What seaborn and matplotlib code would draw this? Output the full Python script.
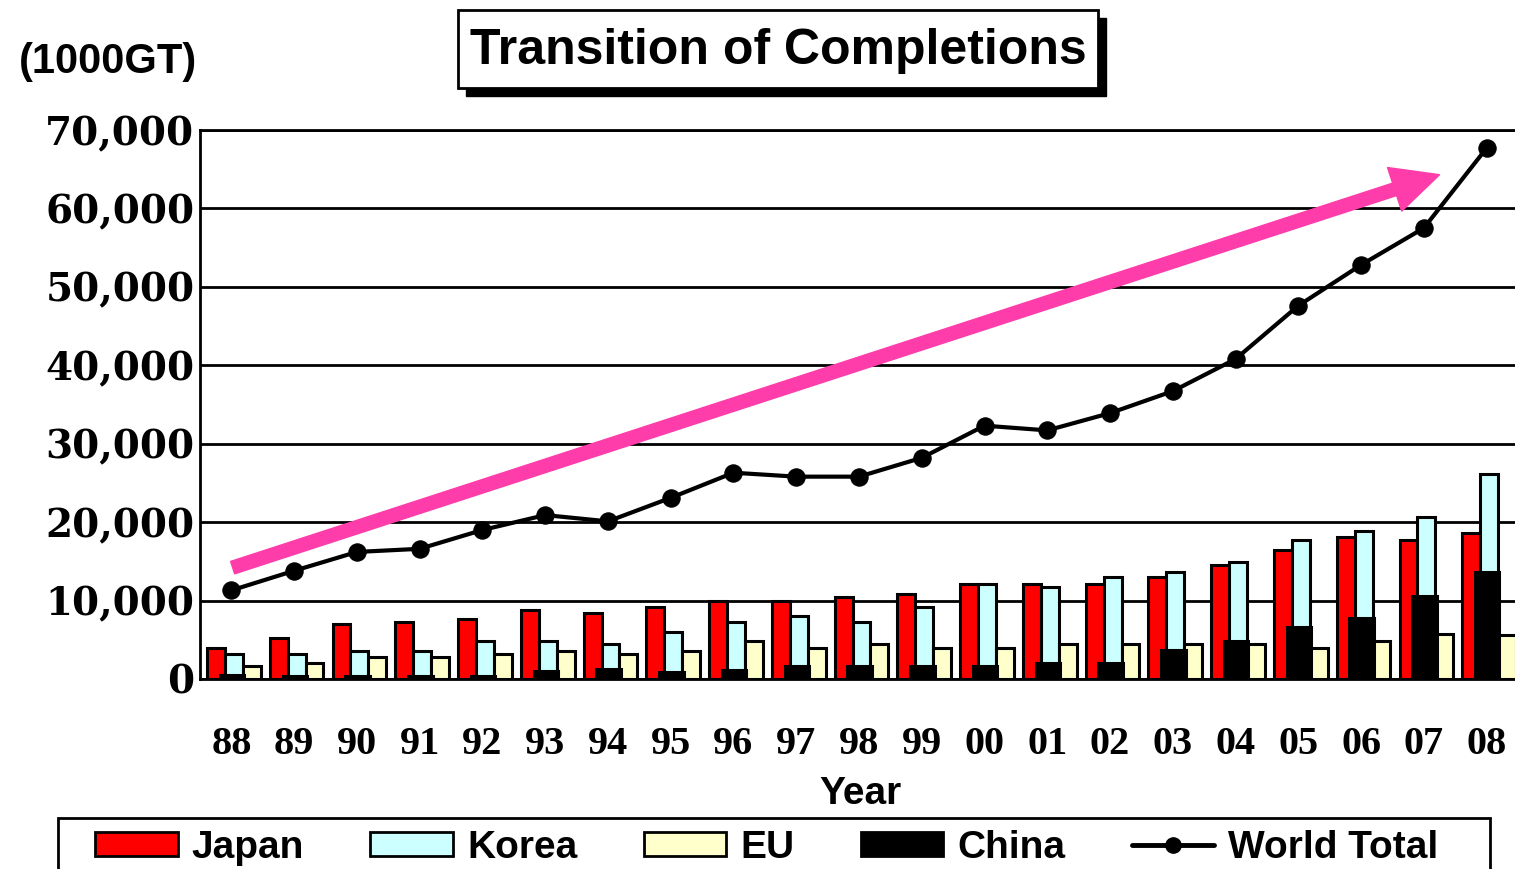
import numpy as np
import pandas as pd
import seaborn as sns
import matplotlib.pyplot as plt
from matplotlib.patches import Rectangle, Patch
from matplotlib.lines import Line2D

# values in 1000GT
years = ["88", "89", "90", "91", "92", "93", "94", "95", "96", "97", "98",
         "99", "00", "01", "02", "03", "04", "05", "06", "07", "08"]
japan = [4000, 5200, 7000, 7300, 7700, 8800, 8400, 9200, 10000, 10000, 10500,
         10900, 12100, 12100, 12100, 13000, 14500, 16500, 18100, 17700, 18600]
korea = [3200, 3200, 3600, 3600, 4900, 4900, 4500, 6000, 7300, 8000, 7300,
         9200, 12100, 11700, 13000, 13700, 14900, 17700, 18900, 20600, 26200]
eu = [1600, 2100, 2800, 2800, 3200, 3600, 3200, 3600, 4900, 4000, 4500,
      4000, 4000, 4500, 4500, 4500, 4500, 4000, 4900, 5700, 5600]
china = [500, 400, 400, 400, 400, 1000, 1300, 900, 1200, 1600, 1600,
         1600, 1600, 2100, 2100, 3700, 4900, 6600, 7800, 10600, 13700]
world = [11300, 13800, 16200, 16600, 19000, 20900, 20100, 23100, 26300, 25800, 25800,
         28200, 32300, 31700, 33900, 36700, 40800, 47600, 52800, 57500, 67700]

series_names = ["Japan", "Korea", "EU", "China"]
colors = {"Japan": "#FF0000", "Korea": "#CCFFFF", "EU": "#FFFFCC", "China": "#000000"}

sns.set_theme(style="white")
plt.rcParams["text.color"] = "black"
serif = dict(family=["Liberation Serif", "DejaVu Serif"], weight="bold")
yserif = dict(family=["DejaVu Serif"], weight="bold")
sans = dict(family=["Liberation Sans", "DejaVu Sans"], weight="bold")

W, H = 1515, 869
fig = plt.figure(figsize=(W / 100, H / 100), dpi=100)
ax = fig.add_axes([200 / W, 1 - 679 / H, 1318 / W, 549 / H])

idx = np.arange(len(years))
df = pd.DataFrame({"idx": idx, "Japan": japan, "Korea": korea, "EU": eu,
                   "China": china, "World": world})

# bar position shift and width inside each year slot
layout = {"Japan": (-0.245, 0.285), "Korea": (0.04, 0.285),
          "EU": (0.325, 0.285), "China": (0.01, 0.39)}
for name in ["Japan", "Korea", "EU", "China"]:
    shift, width = layout[name]
    sns.barplot(x=df["idx"] + shift, y=df[name], native_scale=True, width=width,
                color=colors[name], saturation=1, edgecolor="black", linewidth=2.2,
                errorbar=None, ax=ax, zorder=3)

sns.lineplot(x=df["idx"], y=df["World"], color="black", lw=3, marker="o",
             markersize=12.5, mec="black", mfc="black", ax=ax, zorder=5)

# pink trend arrow
ax.annotate("", xy=(19.25, 64300), xytext=(0.02, 14200),
            arrowprops=dict(arrowstyle="simple,tail_width=0.47,head_width=1.65,head_length=1.7",
                            mutation_scale=20, color="#FF3DAA", shrinkA=0, shrinkB=0),
            zorder=4)

ax.set_xlim(-0.5, 20.5)
ax.set_ylim(0, 70000)
ax.set_yticks(range(0, 70001, 10000))
ax.set_yticklabels([f"{v:,}" for v in range(0, 70001, 10000)], fontsize=28, **yserif)
ax.set_xticks(idx)
ax.set_xticklabels(years, fontsize=29, **serif)
ax.set_xticks(idx[:-1] + 0.5, minor=True)
ax.tick_params(axis="x", which="major", length=0, pad=34, colors="black")
ax.tick_params(axis="x", which="minor", direction="in", length=4, width=2, color="black")
ax.tick_params(axis="y", length=0, pad=4, colors="black")
ax.yaxis.grid(True, color="black", lw=2, zorder=1)
ax.set_axisbelow(True)
for side in ["left", "top", "bottom"]:
    ax.spines[side].set_color("black")
    ax.spines[side].set_linewidth(2)
ax.spines["right"].set_visible(False)
ax.set_xlabel("")
ax.set_ylabel("")

fig.text(860 / W, 1 - 794 / H, "Year", ha="center", va="center", fontsize=28,
         color="black", **sans)
fig.text(108 / W, 1 - 62 / H, "(1000GT)", ha="center", va="center", fontsize=30,
         color="black", **sans)

# title box with drop shadow
fig.add_artist(Rectangle((466 / W, 1 - 96 / H), 640 / W, 78 / H, transform=fig.transFigure,
                         facecolor="black", edgecolor="black"))
fig.add_artist(Rectangle((458 / W, 1 - 88 / H), 640 / W, 78 / H, transform=fig.transFigure,
                         facecolor="white", edgecolor="black", lw=2))
fig.text(778 / W, 1 - 51 / H, "Transition of Completions", ha="center", va="center",
         fontsize=36, color="black", **sans)

# legend: frame drawn separately so its box runs off the bottom edge
fig.add_artist(Rectangle((58 / W, -0.05), 1432 / W, 1 - 818 / H + 0.05,
                         transform=fig.transFigure, facecolor="white",
                         edgecolor="black", lw=2))
handles = [Patch(facecolor=colors[n], edgecolor="black", lw=2, label=n) for n in series_names]
handles.append(Line2D([], [], color="black", lw=3.5, marker="o", markersize=11, label="World Total"))
leg = fig.legend(handles=handles, loc="center left", ncol=5,
                 bbox_to_anchor=(95 / W, 1 - 848 / H),
                 prop=dict(size=28, **sans), frameon=False, labelcolor="black",
                 handlelength=2.13, handleheight=0.57, columnspacing=1.7,
                 borderpad=0, handletextpad=0.36, borderaxespad=0)

fig.savefig("out.png", dpi=100)
